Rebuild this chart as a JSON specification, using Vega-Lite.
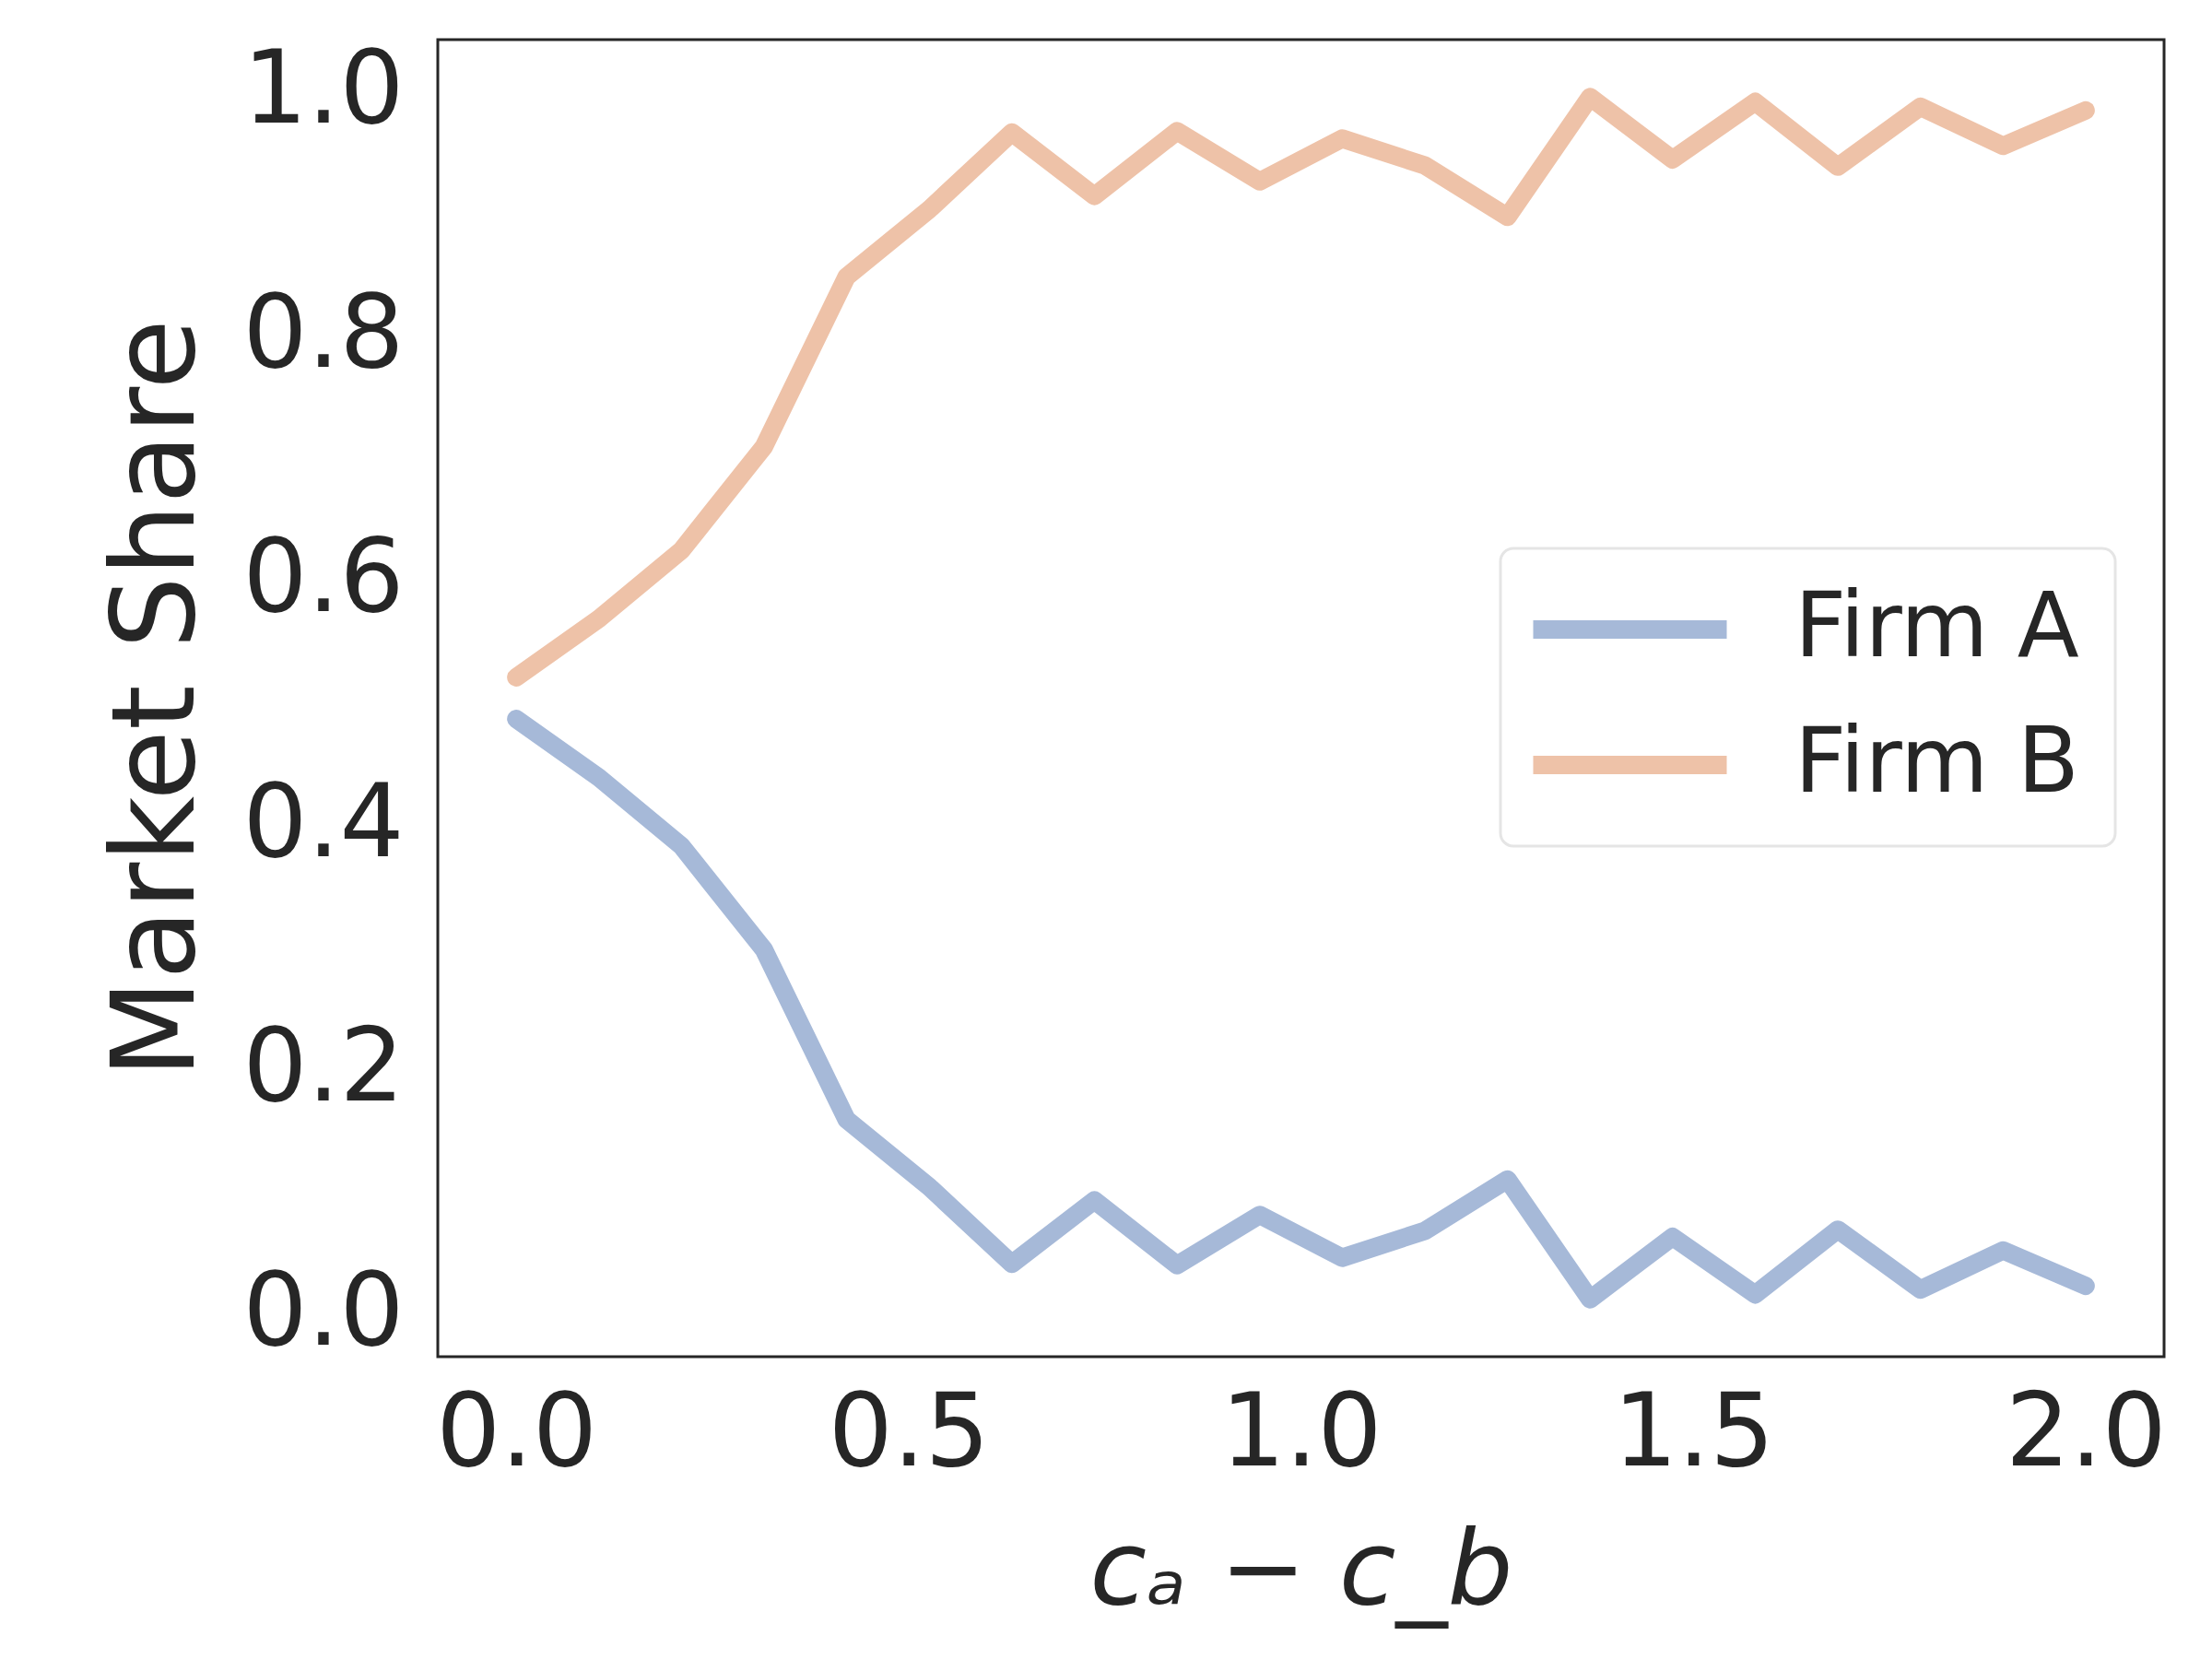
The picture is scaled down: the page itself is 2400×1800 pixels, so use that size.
{
  "$schema": "https://vega.github.io/schema/vega-lite/v6.json",
  "autosize": {"type": "none"},
  "width": 1873,
  "height": 1429,
  "padding": {"left": 475, "top": 43, "right": 52, "bottom": 328},
  "background": "white",
  "config": {
    "font": "DejaVu Sans",
    "view": {"stroke": "#262626", "strokeWidth": 3},
    "legend": {"strokeWidth": 3},
    "axis": {
      "grid": false,
      "domain": false,
      "ticks": false,
      "labelFont": "DejaVu Sans",
      "labelColor": "#262626",
      "titleFont": "DejaVu Sans",
      "titleColor": "#262626",
      "titleFontWeight": "normal"
    }
  },
  "data": {
    "values": [
      {"x": 0.0, "share": 0.483, "firm": "Firm A"},
      {"x": 0.1053, "share": 0.435, "firm": "Firm A"},
      {"x": 0.2105, "share": 0.379, "firm": "Firm A"},
      {"x": 0.3158, "share": 0.294, "firm": "Firm A"},
      {"x": 0.4211, "share": 0.155, "firm": "Firm A"},
      {"x": 0.5263, "share": 0.100, "firm": "Firm A"},
      {"x": 0.6316, "share": 0.037, "firm": "Firm A"},
      {"x": 0.7368, "share": 0.089, "firm": "Firm A"},
      {"x": 0.8421, "share": 0.036, "firm": "Firm A"},
      {"x": 0.9474, "share": 0.077, "firm": "Firm A"},
      {"x": 1.0526, "share": 0.042, "firm": "Firm A"},
      {"x": 1.1579, "share": 0.064, "firm": "Firm A"},
      {"x": 1.2632, "share": 0.106, "firm": "Firm A"},
      {"x": 1.3684, "share": 0.008, "firm": "Firm A"},
      {"x": 1.4737, "share": 0.059, "firm": "Firm A"},
      {"x": 1.5789, "share": 0.012, "firm": "Firm A"},
      {"x": 1.6842, "share": 0.065, "firm": "Firm A"},
      {"x": 1.7895, "share": 0.016, "firm": "Firm A"},
      {"x": 1.8947, "share": 0.048, "firm": "Firm A"},
      {"x": 2.0, "share": 0.019, "firm": "Firm A"},
      {"x": 0.0, "share": 0.517, "firm": "Firm B"},
      {"x": 0.1053, "share": 0.565, "firm": "Firm B"},
      {"x": 0.2105, "share": 0.621, "firm": "Firm B"},
      {"x": 0.3158, "share": 0.706, "firm": "Firm B"},
      {"x": 0.4211, "share": 0.845, "firm": "Firm B"},
      {"x": 0.5263, "share": 0.900, "firm": "Firm B"},
      {"x": 0.6316, "share": 0.963, "firm": "Firm B"},
      {"x": 0.7368, "share": 0.911, "firm": "Firm B"},
      {"x": 0.8421, "share": 0.964, "firm": "Firm B"},
      {"x": 0.9474, "share": 0.923, "firm": "Firm B"},
      {"x": 1.0526, "share": 0.958, "firm": "Firm B"},
      {"x": 1.1579, "share": 0.936, "firm": "Firm B"},
      {"x": 1.2632, "share": 0.894, "firm": "Firm B"},
      {"x": 1.3684, "share": 0.992, "firm": "Firm B"},
      {"x": 1.4737, "share": 0.941, "firm": "Firm B"},
      {"x": 1.5789, "share": 0.988, "firm": "Firm B"},
      {"x": 1.6842, "share": 0.935, "firm": "Firm B"},
      {"x": 1.7895, "share": 0.984, "firm": "Firm B"},
      {"x": 1.8947, "share": 0.952, "firm": "Firm B"},
      {"x": 2.0, "share": 0.981, "firm": "Firm B"}
    ]
  },
  "mark": {"type": "line", "strokeWidth": 20, "strokeCap": "round", "strokeJoin": "round", "clip": true},
  "encoding": {
    "x": {
      "field": "x",
      "type": "quantitative",
      "scale": {"domain": [-0.1, 2.1], "nice": false, "zero": false},
      "axis": {
        "values": [0, 0.5, 1, 1.5, 2],
        "format": ".1f",
        "labelFontSize": 110,
        "labelPadding": 30,
        "title": "cₐ − c_b",
        "titleFontSize": 112,
        "titleFontStyle": "italic",
        "titlePadding": 40
      }
    },
    "y": {
      "field": "share",
      "type": "quantitative",
      "scale": {"domain": [-0.039, 1.039], "nice": false, "zero": false},
      "axis": {
        "values": [0, 0.2, 0.4, 0.6, 0.8, 1.0],
        "format": ".1f",
        "labelFontSize": 110,
        "labelPadding": 37,
        "labelOffset": 5,
        "title": "Market Share",
        "titleFontSize": 124,
        "titlePadding": 40
      }
    },
    "color": {
      "field": "firm",
      "type": "nominal",
      "scale": {"domain": ["Firm A", "Firm B"], "range": ["#a6b9d8", "#eec2a8"]},
      "legend": {
        "title": null,
        "orient": "none",
        "legendX": 1153,
        "legendY": 552,
        "symbolType": "M-2.5,0H7.5",
        "symbolSize": 1764,
        "symbolStrokeWidth": 20,
        "labelFontSize": 98,
        "labelFont": "DejaVu Sans",
        "labelColor": "#262626",
        "labelOffset": 182,
        "labelLimit": 600,
        "rowPadding": 49,
        "padding": 39,
        "strokeColor": "#e5e5e5",
        "cornerRadius": 14,
        "fillColor": "white"
      }
    }
  }
}
